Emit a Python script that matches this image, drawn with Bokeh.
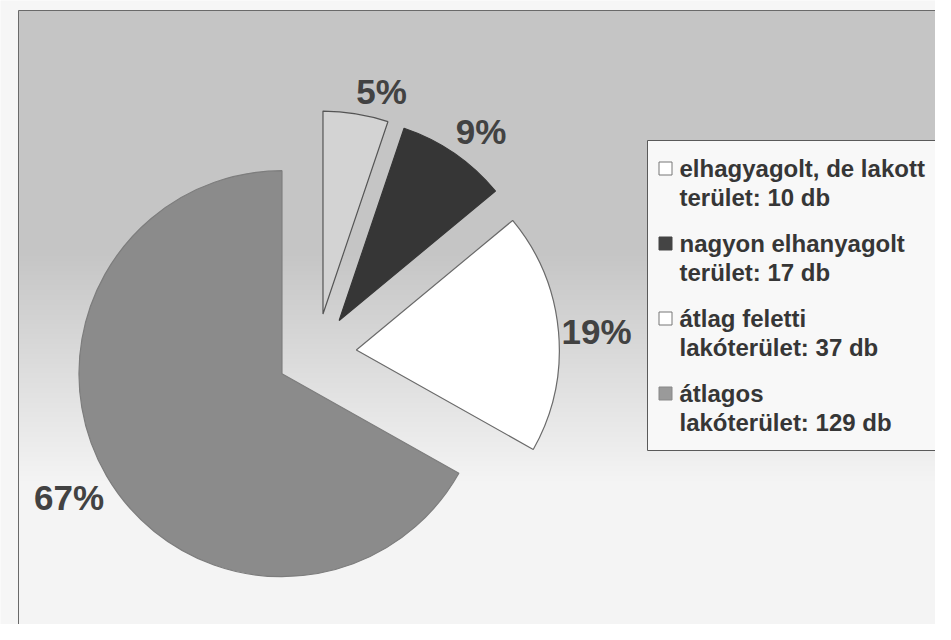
import numpy as np
from bokeh.plotting import figure
from bokeh.models import Range1d, ColumnDataSource
from bokeh.core.properties import value
from bokeh.embed import file_html
from bokeh.resources import INLINE

# ---- data ----
legend_line1 = ["elhagyagolt, de lakott", "nagyon elhanyagolt", "átlag feletti", "átlagos"]
legend_prefix = ["terület", "terület", "lakóterület", "lakóterület"]
counts = [10, 17, 37, 129]

# ---- styles ----
fills = ["#d3d3d3", "#363636", "#ffffff", "#8b8b8b"]
lines = ["#555555", "#363636", "#6a6a6a", "#7d7d7d"]
marker_fills = ["#ffffff", "#444444", "#ffffff", "#9a9a9a"]
marker_lines = ["#777777", "#444444", "#777777", "#888888"]
FONT = "Liberation Sans"

W, H = 935, 624
p = figure(width=W, height=H, x_range=Range1d(0, W), y_range=Range1d(-H, 0),
           x_axis_type=None, y_axis_type=None, output_backend="svg",
           toolbar_location=None, min_border=0)
p.grid.visible = False
p.outline_line_color = None
p.background_fill_color = "#f6f6f6"
p.border_fill_color = "#f6f6f6"

# background gradient of the scanned chart area (style only)
rows = 620
ypix = 630 - (np.arange(rows) + 0.5) * (620 / rows)
g = np.where(ypix < 250, 197, np.where(ypix > 480, 244, 197 + (ypix - 250) / 230 * 47)).astype(np.uint32)
img = np.empty((rows, 1), dtype=np.uint32)
img[:, 0] = (255 << 24) | (g << 16) | (g << 8) | g
p.image_rgba(image=[img], x=18, y=-630, dw=940, dh=620)
p.quad(left=[18], right=[960], top=[-10], bottom=[-630], fill_color=None, line_color="#6a6a6a", line_width=1)

# ---- exploded pie ----
total = sum(counts)
fracs = np.array(counts) / total
cum = np.concatenate([[0], np.cumsum(fracs)]) * 360.0  # compass degrees, clockwise from top
cx, cy, r, d = 316, -353, 203, 40
xs, ys, sa, ea, mids = [], [], [], [], []
for i in range(len(counts)):
    s_c, e_c = cum[i], cum[i + 1]
    m = np.radians((s_c + e_c) / 2)
    mids.append(m)
    xs.append(cx + d * np.sin(m))
    ys.append(cy + d * np.cos(m))
    sa.append(np.radians(90 - e_c))
    ea.append(np.radians(90 - s_c))
src = ColumnDataSource(dict(x=xs, y=ys, sa=sa, ea=ea, fill=fills, line=lines))
p.wedge(x="x", y="y", radius=r, start_angle="sa", end_angle="ea",
        fill_color="fill", line_color="line", line_width=1.2, source=src)

# percentage labels
lab_r = 246
for i, m in enumerate(mids):
    dx, dy = np.sin(m), np.cos(m)
    ha = "left" if dx > 0.1 else ("right" if dx < -0.1 else "center")
    va = "bottom" if dy > 0.3 else ("top" if dy < -0.3 else "middle")
    p.text(x=[cx + lab_r * dx], y=[cy + lab_r * dy], text=[f"{round(100 * fracs[i])}%"],
           text_align=ha, text_baseline=va, text_font=value(FONT), text_font_style="bold",
           text_font_size="35px", text_color="#424242")

# ---- legend (drawn manually, two-line entries) ----
p.quad(left=[647], right=[960], top=[-140], bottom=[-450], fill_color="#f8f8f8",
       line_color="#5a5a5a", line_width=1)
ent_y1 = [-168 - 75 * i for i in range(len(counts))]
ent_y2 = [y - 29 for y in ent_y1]
p.scatter(x=[665] * len(counts), y=ent_y1, marker="square", size=13,
          fill_color=marker_fills, line_color=marker_lines, line_width=1)
p.text(x=[679] * len(counts), y=ent_y1, text=legend_line1, text_baseline="middle",
       text_font=value(FONT), text_font_style="bold", text_font_size="24px", text_color="#363636")
p.text(x=[679] * len(counts), y=ent_y2,
       text=[f"{pre}: {c} db" for pre, c in zip(legend_prefix, counts)], text_baseline="middle",
       text_font=value(FONT), text_font_style="bold", text_font_size="24px", text_color="#363636")

open("out.html", "w").write(file_html(p, INLINE))
